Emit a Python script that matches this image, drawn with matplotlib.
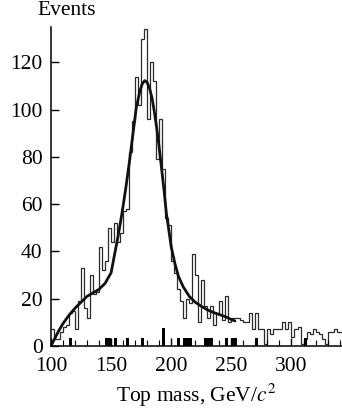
import numpy as np
import matplotlib
matplotlib.use("Agg")
from matplotlib import pyplot as plt

# histogram of reconstructed top mass (2.5 GeV bins starting at 100)
BIN_START = 100.0
BIN_WIDTH = 2.5
hist_events = [
    7, 3, 3, 6, 8, 9, 14, 15, 7, 19,
    33, 16, 12, 30, 22, 23, 42, 32, 36, 50,
    44, 52, 44, 48, 57, 58, 82, 95, 114, 102,
    130, 134, 96, 120, 112, 79, 96, 75, 54, 51,
    36, 31, 24, 19, 12, 20, 18, 39, 30, 10,
    28, 17, 12, 17, 9, 14, 19, 11, 21, 10,
    12, 12, 12, 11, 10, 10, 14, 7, 14, 7,
    7, 1, 7, 5, 7, 7, 7, 10, 7, 10,
    4, 7, 8, 1, 3, 6, 5, 7, 6, 5,
    3, 1, 6, 6, 7, 6, 6,
]

# data events (black marks at the bottom)
data_mass = [115, 145, 147.5, 152.5, 162.5, 175, 192.5, 205, 210, 212.5,
             215, 227.5, 230, 232.5, 245, 250, 252.5, 270, 310]
data_events = [3.5, 3.5, 3.5, 3.5, 3.5, 3.5, 7.5, 3.5, 3.5, 3.5,
               3.5, 3.5, 3.5, 3.5, 3.5, 3.5, 3.5, 3.5, 3.5]

# fitted curve
fit_mass = [100, 103, 106, 110, 115, 120, 125, 130, 135, 140,
            145, 150, 153, 156, 159, 162, 165, 168, 171, 174,
            176, 178, 180, 182, 184, 186, 188, 190, 192, 194,
            196, 198, 200, 203, 206, 210, 215, 220, 225, 230,
            235, 240, 245, 250, 253]
fit_events = [0, 3, 6, 9.5, 13, 16, 18.5, 21, 22.5, 24,
              26.5, 31, 39, 47, 56, 66, 77, 89, 101, 108,
              111, 112.3, 111.5, 109, 105, 99, 92, 84, 75, 66,
              56, 49, 42, 35, 29.5, 25, 21, 18.5, 16.8, 15.3,
              14.2, 13.3, 12.4, 11.2, 10.6]

plt.rcParams.update({
    "font.family": "Liberation Serif",
    "mathtext.fontset": "stix",
    "font.size": 15.5,
})

fig = plt.figure(figsize=(3.42, 4.08), dpi=100)
ax = fig.add_axes([0.149, 0.152, 0.851, 0.782])

edges = BIN_START + BIN_WIDTH * np.arange(len(hist_events) + 1)
ax.stairs(hist_events, edges, color="#2a2a2a", lw=0.9, baseline=None)
ax.bar(data_mass, data_events, width=BIN_WIDTH, align="edge", color="black", lw=0)
ax.plot(fit_mass, fit_events, color="#111111", lw=2.0, solid_capstyle="round")

ax.set_xlim(100, 342)
ax.set_ylim(0, 135)
ax.set_xticks([100, 150, 200, 250, 300])
ax.set_xticks(np.arange(110, 341, 10), minor=True)
ax.set_yticks([0, 20, 40, 60, 80, 100, 120])

for side in ("top", "right"):
    ax.spines[side].set_visible(False)
for side in ("left", "bottom"):
    ax.spines[side].set_linewidth(1.1)

ax.tick_params(axis="both", which="major", direction="in", length=6, width=1.0)
ax.tick_params(axis="x", which="major", pad=8)
ax.tick_params(axis="y", which="major", pad=6)
ax.tick_params(axis="x", which="minor", direction="in", length=4, width=0.8)

ax.set_xlabel(r"Top mass, GeV/$c^2$", labelpad=4)
fig.text(0.11, 0.998, "Events", ha="left", va="top")

fig.savefig("out.png", dpi=100)
